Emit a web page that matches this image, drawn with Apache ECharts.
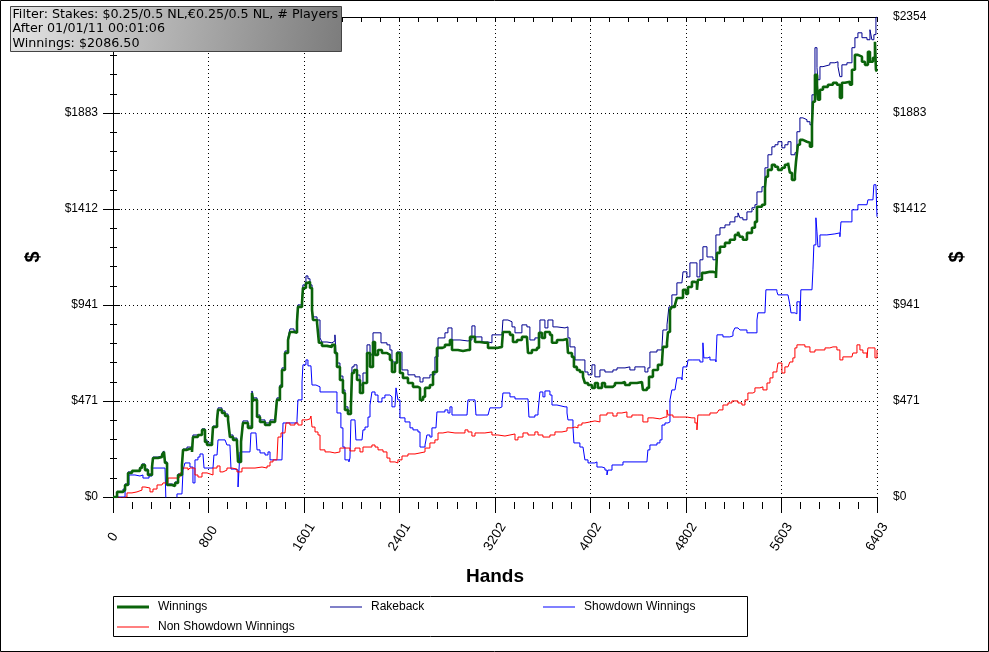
<!DOCTYPE html>
<html lang="en">
<head>
<meta charset="UTF-8">
<title>Winnings graph</title>
<script src="https://cdn.jsdelivr.net/npm/echarts/dist/echarts.min.js"></script>
<style>
  html, body { margin: 0; padding: 0; background: #fff; }
  #chart { width: 989px; height: 652px; }
</style>
</head>
<body>
<div id="chart"></div>
<script>
// hands played vs. dollars
var xStep = 800.375;
var xTickLabels = ['0', '800', '1601', '2401', '3202', '4002', '4802', '5603', '6403'];
var yStep = 470.7;
var yTickLabels = ['$0', '$471', '$941', '$1412', '$1883', '$2354'];

var infoLines = [
    'Filter: Stakes: $0.25/0.5 NL,\u20ac0.25/0.5 NL, # Players',
    'After 01/01/11 00:01:06',
    'Winnings: $2086.50'
];

var winnings = [
[0,0],[34,25],[84,34],[101,59],[126,118],[159,128],[226,142],[243,157],[268,132],[293,108],[327,147],[335,191],[377,196],[411,206],[427,221],[436,167],[453,59],[494,54],[520,69],[545,108],[578,157],[587,231],[620,240],[662,221],[670,294],[712,304],[746,329],[771,270],[788,255],[830,270],[838,343],[872,378],[880,427],[913,412],[939,397],[964,378],[980,294],[1006,280],[1039,265],[1048,172],[1073,270],[1089,363],[1131,339],[1165,510],[1173,476],[1207,392],[1232,368],[1274,353],[1316,368],[1358,363],[1374,476],[1399,540],[1416,623],[1441,706],[1467,770],[1483,809],[1517,805],[1542,859],[1550,932],[1584,952],[1592,1025],[1617,1050],[1634,1055],[1651,1025],[1668,917],[1676,868],[1710,854],[1726,756],[1751,741],[1793,736],[1835,746],[1860,706],[1877,638],[1902,574],[1927,510],[1944,427],[1969,407],[1994,442],[2003,608],[2020,623],[2045,574],[2070,510],[2095,559],[2129,706],[2154,638],[2179,760],[2196,697],[2221,721],[2254,706],[2296,697],[2321,672],[2338,613],[2363,657],[2380,706],[2405,608],[2430,584],[2472,559],[2514,540],[2556,535],[2573,476],[2598,491],[2615,535],[2656,549],[2682,613],[2715,731],[2757,736],[2782,746],[2824,770],[2841,721],[2891,716],[2933,721],[2975,721],[2992,785],[3034,760],[3075,756],[3117,756],[3143,731],[3159,731],[3218,736],[3260,746],[3268,809],[3302,809],[3327,795],[3352,760],[3386,770],[3427,785],[3469,780],[3478,706],[3511,721],[3553,731],[3570,805],[3595,780],[3620,809],[3662,795],[3679,756],[3721,770],[3771,775],[3805,770],[3813,706],[3846,687],[3863,638],[3888,623],[3913,613],[3939,589],[3955,559],[3981,549],[4014,535],[4039,559],[4064,535],[4098,559],[4123,540],[4148,540],[4190,549],[4207,559],[4265,564],[4291,549],[4332,559],[4391,564],[4433,559],[4441,525],[4475,535],[4492,589],[4525,623],[4567,648],[4601,662],[4609,736],[4643,756],[4651,809],[4668,917],[4684,932],[4710,942],[4726,976],[4751,976],[4777,1016],[4802,996],[4819,1030],[4852,1055],[4877,1050],[4894,1016],[4902,1065],[4936,1099],[4961,1104],[5003,1104],[5028,1099],[5053,1074],[5062,1197],[5087,1227],[5129,1246],[5170,1261],[5212,1285],[5238,1300],[5254,1276],[5279,1261],[5313,1295],[5355,1320],[5380,1349],[5397,1423],[5439,1433],[5464,1516],[5472,1570],[5489,1604],[5522,1629],[5548,1619],[5573,1604],[5606,1614],[5631,1629],[5657,1639],[5673,1590],[5690,1555],[5715,1580],[5724,1643],[5740,1727],[5757,1751],[5782,1742],[5816,1737],[5841,1717],[5858,1825],[5866,1938],[5883,2070],[5900,2021],[5908,1948],[5925,1997],[5950,2011],[5992,2021],[6034,2031],[6067,2021],[6092,1957],[6109,2031],[6134,2036],[6176,2021],[6193,2095],[6218,2168],[6243,2159],[6277,2134],[6302,2119],[6327,2183],[6344,2134],[6369,2154],[6386,2232],[6394,2095],[6403,2086.5]
];

var rakeback = [
[0,0],[34,25],[84,39],[101,64],[126,123],[159,132],[226,147],[243,162],[268,137],[293,113],[327,152],[335,196],[377,201],[411,216],[427,226],[436,172],[453,64],[494,59],[520,74],[545,113],[578,162],[587,235],[620,245],[662,226],[670,304],[712,309],[746,334],[771,280],[788,265],[830,275],[838,348],[872,388],[880,437],[913,422],[939,407],[964,388],[980,304],[1006,289],[1039,275],[1048,186],[1073,280],[1089,373],[1131,348],[1165,520],[1173,486],[1207,402],[1232,378],[1274,363],[1316,378],[1358,373],[1374,486],[1399,549],[1416,633],[1441,716],[1467,780],[1483,824],[1517,814],[1542,874],[1550,942],[1584,966],[1592,1040],[1617,1084],[1634,1070],[1651,1040],[1668,932],[1676,883],[1710,868],[1735,780],[1751,760],[1793,756],[1835,765],[1860,795],[1868,716],[1877,657],[1902,593],[1927,525],[1944,442],[1969,422],[1994,456],[2003,638],[2020,648],[2045,598],[2070,549],[2095,608],[2129,746],[2154,697],[2179,805],[2246,756],[2296,746],[2321,721],[2338,662],[2380,711],[2422,623],[2472,599],[2531,589],[2573,564],[2598,584],[2656,599],[2698,687],[2724,780],[2782,805],[2807,829],[2841,770],[2908,765],[2975,770],[3008,839],[3034,785],[3092,760],[3143,756],[3176,795],[3260,795],[3268,868],[3310,859],[3344,834],[3369,805],[3427,844],[3469,834],[3494,770],[3536,780],[3578,868],[3620,829],[3645,868],[3687,834],[3721,829],[3788,834],[3813,780],[3830,736],[3872,672],[3930,672],[3955,613],[3981,599],[4014,648],[4039,589],[4081,623],[4123,613],[4190,623],[4224,633],[4291,638],[4332,623],[4374,638],[4433,638],[4458,613],[4483,633],[4500,711],[4559,721],[4601,736],[4609,819],[4643,844],[4659,932],[4684,991],[4726,1050],[4768,1055],[4777,1104],[4810,1079],[4835,1148],[4877,1148],[4894,1079],[4919,1163],[4944,1227],[4978,1177],[5003,1177],[5028,1163],[5053,1285],[5087,1320],[5129,1334],[5170,1349],[5212,1374],[5238,1393],[5254,1369],[5279,1359],[5313,1398],[5355,1418],[5380,1433],[5397,1496],[5439,1521],[5464,1614],[5489,1678],[5522,1717],[5548,1727],[5573,1742],[5606,1712],[5631,1727],[5657,1742],[5682,1678],[5715,1688],[5732,1791],[5757,1859],[5782,1850],[5816,1840],[5841,1825],[5858,1972],[5883,2203],[5900,2105],[5908,2046],[5925,2110],[5950,2119],[6008,2129],[6050,2134],[6076,2110],[6092,2061],[6109,2119],[6151,2129],[6193,2203],[6218,2252],[6243,2276],[6277,2252],[6319,2242],[6344,2291],[6360,2242],[6377,2267],[6394,2350],[6403,2354]
];

var showdown = [
[0,0],[101,59],[134,108],[184,103],[226,108],[251,93],[302,103],[327,142],[377,142],[436,137],[444,-29],[478,-34],[503,-29],[536,15],[578,15],[587,132],[603,167],[645,147],[670,69],[687,182],[712,196],[729,211],[754,206],[763,142],[796,142],[838,147],[846,206],[872,206],[880,280],[939,280],[955,255],[980,255],[989,137],[1022,132],[1048,49],[1064,221],[1148,221],[1156,314],[1198,314],[1207,231],[1232,216],[1274,206],[1299,221],[1316,182],[1416,182],[1425,363],[1542,378],[1550,476],[1584,564],[1592,648],[1617,672],[1634,643],[1659,643],[1668,549],[1701,540],[1735,515],[1860,515],[1877,412],[1910,339],[1927,245],[1944,182],[1977,172],[1986,191],[1994,378],[2028,378],[2036,280],[2087,280],[2095,329],[2112,343],[2137,392],[2154,451],[2170,515],[2196,500],[2221,466],[2254,486],[2279,500],[2321,491],[2338,442],[2363,446],[2372,535],[2388,476],[2405,388],[2447,368],[2489,339],[2514,329],[2556,319],[2573,245],[2615,255],[2631,304],[2656,294],[2673,339],[2707,339],[2715,417],[2782,427],[2807,412],[2824,442],[2841,402],[2967,402],[2975,476],[3034,476],[3042,402],[3143,397],[3159,437],[3243,442],[3260,461],[3268,510],[3302,510],[3327,491],[3369,481],[3478,476],[3486,392],[3536,402],[3562,417],[3578,515],[3603,491],[3620,520],[3662,500],[3679,451],[3721,451],[3729,442],[3788,442],[3805,412],[3813,378],[3855,339],[3863,265],[3913,245],[3939,240],[3955,182],[3981,167],[4039,172],[4056,147],[4098,142],[4123,132],[4140,108],[4148,132],[4182,157],[4274,172],[4475,167],[4483,231],[4500,255],[4559,265],[4584,280],[4601,353],[4626,363],[4651,368],[4668,476],[4684,525],[4710,530],[4726,584],[4768,574],[4777,638],[4810,633],[4819,672],[4860,672],[4919,662],[4944,756],[4952,682],[4986,687],[5003,672],[5053,662],[5062,795],[5112,785],[5170,790],[5196,809],[5212,829],[5238,834],[5254,819],[5313,805],[5380,805],[5397,868],[5405,903],[5464,903],[5472,1016],[5564,1006],[5573,991],[5657,991],[5673,942],[5682,903],[5715,898],[5732,957],[5757,863],[5765,1016],[5858,1011],[5866,1114],[5874,1236],[5891,1369],[5900,1300],[5908,1227],[5925,1285],[5983,1290],[6050,1295],[6092,1276],[6101,1349],[6176,1349],[6193,1408],[6243,1433],[6319,1433],[6327,1457],[6369,1457],[6377,1531],[6394,1531],[6403,1374]
];

var nonShowdown = [
[0,0],[34,-5],[75,0],[117,20],[159,25],[201,34],[243,49],[268,44],[310,25],[335,39],[369,59],[411,59],[419,69],[461,93],[503,93],[536,98],[561,118],[578,142],[603,142],[629,132],[645,142],[687,108],[712,98],[746,118],[788,113],[813,108],[838,142],[872,152],[897,123],[922,132],[955,142],[997,137],[1039,123],[1081,142],[1190,147],[1249,142],[1291,152],[1316,172],[1341,182],[1374,186],[1383,294],[1408,314],[1441,314],[1450,363],[1483,353],[1525,363],[1550,353],[1584,378],[1626,383],[1651,383],[1659,397],[1668,343],[1693,319],[1718,304],[1735,231],[1777,221],[1818,216],[1860,221],[1902,240],[1944,240],[1986,226],[2028,240],[2070,221],[2095,245],[2137,245],[2170,255],[2196,245],[2221,231],[2263,221],[2296,191],[2321,172],[2363,167],[2388,182],[2422,201],[2472,211],[2531,216],[2573,221],[2615,240],[2656,265],[2698,280],[2724,314],[2765,319],[2807,314],[2866,314],[2908,314],[2950,329],[2975,319],[3008,299],[3034,314],[3075,314],[3117,319],[3176,304],[3226,299],[3285,304],[3327,309],[3369,280],[3394,294],[3436,314],[3478,304],[3536,319],[3562,304],[3603,294],[3662,304],[3704,319],[3763,324],[3805,339],[3846,343],[3872,339],[3897,353],[3930,363],[3955,368],[3997,373],[4039,368],[4081,402],[4140,412],[4190,397],[4224,412],[4265,417],[4307,392],[4349,402],[4399,402],[4441,368],[4483,388],[4525,383],[4584,392],[4626,392],[4643,427],[4651,402],[4693,392],[4751,392],[4810,388],[4852,388],[4877,363],[4894,329],[4902,402],[4944,402],[5003,412],[5062,412],[5078,427],[5112,451],[5154,461],[5187,471],[5238,461],[5271,451],[5296,476],[5321,510],[5363,515],[5380,535],[5422,540],[5447,525],[5481,559],[5506,584],[5531,613],[5564,623],[5573,657],[5606,608],[5631,638],[5657,638],[5673,662],[5698,682],[5715,731],[5732,746],[5774,746],[5799,736],[5841,711],[5883,721],[5925,721],[5967,731],[6008,736],[6034,736],[6067,721],[6092,672],[6117,687],[6160,687],[6193,682],[6201,706],[6235,746],[6260,721],[6285,706],[6319,682],[6327,731],[6360,731],[6386,682],[6403,721]
];

var myChart = echarts.init(document.getElementById('chart'));

var font = 'Liberation Sans, Arial, sans-serif';
var dotted = { color: '#000', width: 1, type: [1, 3] };
var xMin = 0, xMax = 8 * xStep;
var yMin = 0, yMax = 5 * yStep;

function plainY(pos, inside, len, minorLen) {
    return {
        type: 'value', position: pos, min: yMin, max: yMax, interval: yStep,
        axisLine: { show: true, lineStyle: { color: '#000' } },
        axisTick: { show: true, inside: inside, length: len, lineStyle: { color: '#000' } },
        minorTick: { show: true, splitNumber: 5, length: minorLen, lineStyle: { color: '#000' } },
        axisLabel: { show: false },
        splitLine: { show: false }
    };
}

function legendItem(name, left, top, h) {
    return {
        data: [name], left: left, top: top, orient: 'horizontal',
        icon: 'rect', itemWidth: 32, itemHeight: h,
        selectedMode: false,
        textStyle: { fontFamily: font, fontSize: 12, color: '#000', padding: [0, 0, 0, 4] }
    };
}

function infoText(i, top) {
    return { type: 'text', left: 2, top: top, z: 101,
             style: { text: infoLines[i], fill: '#000', font: '12.7px DejaVu Sans' } };
}

var option = {
    backgroundColor: '#fff',
    animation: false,
    grid: { left: 113, top: 17, width: 764, height: 480, containLabel: false },
    xAxis: [{
        // tick axis hanging under the plot, ticks pointing down
        type: 'value', position: 'bottom', offset: 8,
        min: xMin, max: xMax, interval: xStep,
        axisLine: { show: false, onZero: false },
        axisTick: { show: true, length: 8, lineStyle: { color: '#000' } },
        minorTick: { show: true, splitNumber: 5, length: 4, lineStyle: { color: '#000' } },
        axisLabel: {
            rotate: 58, margin: 32, align: 'center', verticalAlign: 'middle',
            color: '#000', fontFamily: font, fontSize: 13.5,
            formatter: function (v) { return xTickLabels[Math.round(v / xStep)]; }
        },
        splitLine: { show: true, lineStyle: dotted },
        name: 'Hands', nameLocation: 'middle', nameGap: 62,
        nameTextStyle: { fontFamily: font, fontSize: 19, fontWeight: 'bold', color: '#000' }
    }, {
        // same ticks pointing up
        type: 'value', position: 'bottom', offset: 8,
        min: xMin, max: xMax, interval: xStep,
        axisLine: { show: false, onZero: false },
        axisTick: { show: true, inside: true, length: 8, lineStyle: { color: '#000' } },
        minorTick: { show: true, splitNumber: 5, length: 3, lineStyle: { color: '#000' } },
        axisLabel: { show: false }, splitLine: { show: false }
    }, {
        // solid $0 border
        type: 'value', position: 'bottom', offset: 0, min: xMin, max: xMax, interval: xStep,
        axisLine: { show: true, onZero: false, lineStyle: { color: '#000' } },
        axisTick: { show: false }, axisLabel: { show: false }, splitLine: { show: false }
    }, {
        type: 'value', position: 'top', min: xMin, max: xMax, interval: xStep,
        axisLine: { show: true, onZero: false, lineStyle: { color: '#000' } },
        axisTick: { show: true, inside: true, length: 5, lineStyle: { color: '#000' } },
        minorTick: { show: true, splitNumber: 5, length: 5, lineStyle: { color: '#000' } },
        axisLabel: { show: false }, splitLine: { show: false }
    }],
    yAxis: [{
        type: 'value', position: 'left', min: yMin, max: yMax, interval: yStep,
        axisLine: { show: true, lineStyle: { color: '#000' } },
        axisTick: { show: true, length: 10, lineStyle: { color: '#000' } },
        minorTick: { show: true, splitNumber: 5, length: 3, lineStyle: { color: '#000' } },
        axisLabel: {
            margin: 15, color: '#000', fontFamily: font, fontSize: 12,
            formatter: function (v) { return yTickLabels[Math.round(v / yStep)]; }
        },
        splitLine: { show: true, lineStyle: dotted },
        name: '$', nameLocation: 'middle', nameGap: 70,
        nameTextStyle: { fontFamily: font, fontSize: 20, fontWeight: 'bold', color: '#000' }
    },
    plainY('left', true, 7, 3),
    {
        type: 'value', position: 'right', min: yMin, max: yMax, interval: yStep,
        axisLine: { show: true, lineStyle: { color: '#000' } },
        axisTick: { show: true, length: 5, lineStyle: { color: '#000' } },
        minorTick: { show: true, splitNumber: 5, length: 4, lineStyle: { color: '#000' } },
        axisLabel: {
            margin: 16, color: '#000', fontFamily: font, fontSize: 12,
            formatter: function (v) { return yTickLabels[Math.round(v / yStep)]; }
        },
        splitLine: { show: false },
        name: '$', nameLocation: 'middle', nameGap: 70,
        nameTextStyle: { fontFamily: font, fontSize: 20, fontWeight: 'bold', color: '#000' }
    },
    plainY('right', true, 5, 3)
    ],
    legend: [
        legendItem('Winnings', 112, 596, 3),
        legendItem('Rakeback', 325, 596, 1),
        legendItem('Showdown Winnings', 538, 596, 1),
        legendItem('Non Showdown Winnings', 112, 616, 1)
    ],
    series: [{
        name: 'Rakeback', type: 'line', step: 'end', symbol: 'none',
        data: rakeback, color: '#000090', lineStyle: { width: 1, color: '#000090' }
    }, {
        name: 'Showdown Winnings', type: 'line', step: 'end', symbol: 'none',
        data: showdown, color: '#0000ff', lineStyle: { width: 1, color: '#0000ff' }
    }, {
        name: 'Non Showdown Winnings', type: 'line', step: 'end', symbol: 'none',
        data: nonShowdown, color: '#ff0000', lineStyle: { width: 1, color: '#ff0000' }
    }, {
        name: 'Winnings', type: 'line', step: 'end', symbol: 'none',
        data: winnings, color: '#0b640b', lineStyle: { width: 2.6, color: '#0b640b' }
    }],
    graphic: [
        // outer frame
        { type: 'rect', shape: { x: 0.5, y: 0.5, width: 988, height: 651 },
          style: { fill: 'none', stroke: '#000', lineWidth: 1 }, silent: true },
        // y axes run down to the tick row
        { type: 'line', shape: { x1: 113.5, y1: 497, x2: 113.5, y2: 512 }, style: { stroke: '#000', lineWidth: 1 } },
        { type: 'line', shape: { x1: 877.5, y1: 497, x2: 877.5, y2: 512 }, style: { stroke: '#000', lineWidth: 1 } },
        // legend box
        { type: 'rect', shape: { x: 113.5, y: 596.5, width: 634, height: 40 },
          style: { fill: 'none', stroke: '#000', lineWidth: 1 }, silent: true },
        // filter info box
        { type: 'group', left: 10, top: 6, z: 100, children: [
            { type: 'rect', z: 100, shape: { x: 0, y: 0, width: 331, height: 45 },
              style: {
                  fill: new echarts.graphic.LinearGradient(0, 0, 1, 1, [
                      { offset: 0, color: '#e4e4e4' }, { offset: 1, color: '#7c7c7c' }
                  ]),
                  stroke: '#444', lineWidth: 1
              } },
            infoText(0, 2),
            infoText(1, 16),
            infoText(2, 31)
        ] }
    ]
};

myChart.setOption(option);
</script>
</body>
</html>
